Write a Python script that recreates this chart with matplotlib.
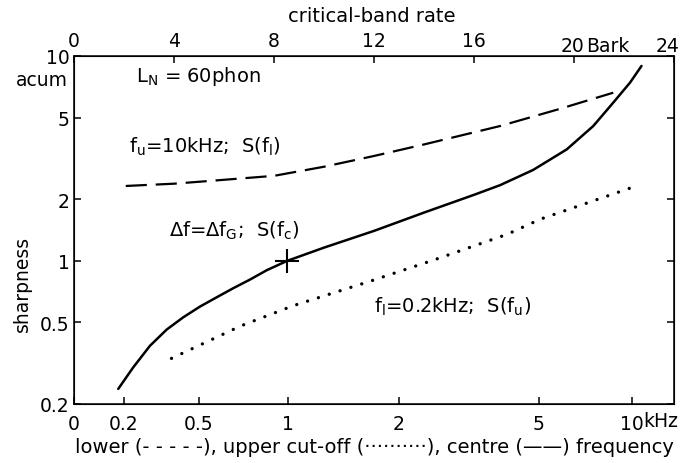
import matplotlib
matplotlib.use("Agg")
import matplotlib.pyplot as plt

plt.rcParams['font.family'] = ['DejaVu Sans']
plt.rcParams['mathtext.fontset'] = 'dejavusans'

# critical-band rate (Bark) vs sharpness (acum)
centre_bark = [1.77, 2.37, 3.04, 3.71, 4.37, 5.04, 5.71, 6.37, 7.04, 7.71, 8.53,
               10.0, 12.0, 14.0, 16.0, 17.04, 18.37, 19.71, 20.77, 21.57, 22.24, 22.7]
centre_acum = [0.237, 0.302, 0.385, 0.462, 0.530, 0.598, 0.664, 0.735, 0.81, 0.90, 1.0,
               1.16, 1.40, 1.72, 2.1, 2.34, 2.78, 3.5, 4.55, 5.92, 7.41, 8.94]

lower_bark = [2.07, 4.0, 5.33, 8.0, 10.0, 12.0, 14.0, 17.04, 19.37, 21.57]
lower_acum = [2.32, 2.38, 2.45, 2.60, 2.88, 3.25, 3.70, 4.55, 5.49, 6.62]

upper_bark = [3.9, 6.67, 8.77, 11.87, 14.5, 17.33, 18.67, 22.27]
upper_acum = [0.334, 0.481, 0.604, 0.797, 1.02, 1.348, 1.60, 2.27]

# frequency scale (kHz) and its position on the Bark axis
freq_labels = ["0", "0.2", "0.5", "1", "2", "5", "10"]
freq_bark = [0, 2.0, 5.0, 8.56, 13.0, 18.6, 22.3]
bark_ticks = [0, 4, 8, 12, 16, 20, 24]
bark_labels = ["0", "4", "8", "12", "16", "", ""]
sharp_ticks = [0.2, 0.5, 1, 2, 5, 10]
sharp_labels = ["0.2", "0.5", "1", "2", "5", "10"]

FS = 13.5

fig = plt.figure(figsize=(6.82, 4.64), dpi=100)
ax = fig.add_axes([74 / 682, 1 - 405 / 464, 600 / 682, 348 / 464])

ax.plot(centre_bark, centre_acum, color="black", lw=1.8, solid_capstyle="round")
ax.plot(lower_bark, lower_acum, color="black", lw=1.6, linestyle=(0, (9.5, 4)))
ax.plot(upper_bark, upper_acum, color="black", lw=2.4,
        linestyle=(0, (0.01, 3.4)), dash_capstyle="round")
ax.plot([8.53], [1.0], marker="+", color="black", markersize=17, mew=1.5)

ax.set_yscale("log")
ax.set_xlim(0, 24)
ax.set_ylim(0.2, 10)
ax.set_yticks(sharp_ticks)
ax.set_yticklabels(sharp_labels)
ax.minorticks_off()
ax.set_xticks(freq_bark)
ax.set_xticklabels(freq_labels)
ax.tick_params(direction="in", length=5, width=1.1, labelsize=FS, right=True)
ax.tick_params(axis="x", pad=7)
ax.tick_params(axis="y", pad=3)
for s in ax.spines.values():
    s.set_linewidth(1.1)

top = ax.twiny()
top.set_xlim(0, 24)
top.set_xticks(bark_ticks)
top.set_xticklabels(bark_labels)
top.tick_params(direction="in", length=5, width=1.1, labelsize=FS, pad=4)
top.minorticks_off()

# last top labels sit left of their ticks, with the unit after 20
fig.text(572 / 682, 1 - 47 / 464, "20", fontsize=FS, va="center", ha="center")
fig.text(586 / 682, 1 - 47 / 464, "Bark", fontsize=FS, va="center", ha="left")
fig.text(668 / 682, 1 - 47 / 464, "24", fontsize=FS, va="center", ha="center")
fig.text(643 / 682, 1 - 422 / 464, "kHz", fontsize=FS, va="center", ha="left")
fig.text(68 / 682, 1 - 80 / 464, "acum", fontsize=FS, va="center", ha="right")
fig.text(372 / 682, 1 - 16 / 464, "critical-band rate", fontsize=FS + 0.5,
         va="center", ha="center")
fig.text(22 / 682, 1 - 284 / 464, "sharpness", fontsize=FS, va="center",
         ha="center", rotation=90)
fig.text(374 / 682, 1 - 448 / 464,
         "lower (- - - - -), upper cut-off (··········), centre (——) frequency",
         fontsize=FS + 0.5, va="center", ha="center")

# annotations inside the plot
ax.text(2.5, 8.0, r"$\mathregular{L_N}$ = 60phon", fontsize=FS + 0.5, va="center")
ax.text(2.2, 3.65, r"$\mathregular{f_u}$=10kHz;  S($\mathregular{f_l}$)",
        fontsize=FS + 0.5, va="center")
ax.text(3.8, 1.42, r"$\mathregular{\Delta f}$=$\mathregular{\Delta f_G}$;  S($\mathregular{f_c}$)",
        fontsize=FS + 0.5, va="center")
ax.text(12.0, 0.60, r"$\mathregular{f_l}$=0.2kHz;  S($\mathregular{f_u}$)",
        fontsize=FS + 0.5, va="center")

fig.savefig("out.png", dpi=100)
